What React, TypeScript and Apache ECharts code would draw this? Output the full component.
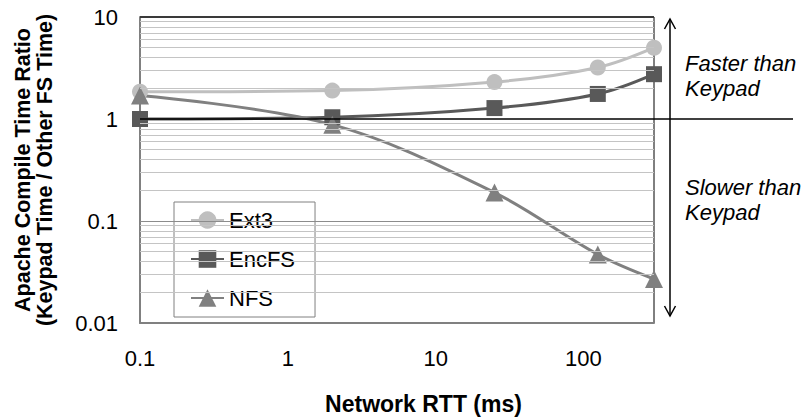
import { useEffect, useRef } from "react";
import * as echarts from "echarts";

const rtt = [0.1, 2, 25, 125, 300];
const ext3 = [1.85, 1.9, 2.3, 3.2, 5.0];
const encfs = [1.0, 1.04, 1.28, 1.76, 2.75];
const nfs = [1.7, 0.88, 0.19, 0.047, 0.027];
const xTicks = [0.1, 1, 10, 100];
const yTicks = [0.01, 0.1, 1, 10];
const minorY = [
  0.02, 0.03, 0.04, 0.05, 0.06, 0.07, 0.08, 0.09,
  0.2, 0.3, 0.4, 0.5, 0.6, 0.7, 0.8, 0.9,
  2, 3, 4, 5, 6, 7, 8, 9,
];
const seriesNames = ["Ext3", "EncFS", "NFS"];

const FONT = "'Liberation Sans', Arial, Helvetica, sans-serif";

function isTick(v: number, list: number[]) {
  return list.some((t) => Math.abs(Math.log10(v) - Math.log10(t)) < 1e-6);
}
function fmt(v: number) {
  return String(+v.toPrecision(3));
}

export default function App() {
  const ref = useRef<HTMLDivElement>(null);
  useEffect(() => {
    if (!ref.current) return;
    const chart = echarts.init(ref.current, null, { renderer: "svg" });
    const pairs = (ys: number[]) => rtt.map((x, i) => [x, ys[i]]);
    const mkSeries = (name: string, ys: number[], color: string, symbol: string, size: number) => ({
      name,
      type: "line",
      data: pairs(ys),
      smooth: 0.35,
      symbol,
      symbolSize: size,
      z: 3,
      lineStyle: { color, width: 3 },
      itemStyle: { color, borderWidth: 0 },
      emphasis: { disabled: true },
    });
    chart.setOption({
      animation: false,
      textStyle: { fontFamily: FONT },
      grid: {
        left: 140,
        top: 17,
        right: 148,
        bottom: 97,
        show: true,
        borderColor: "#000",
        borderWidth: 1,
        backgroundColor: "transparent",
      },
      legend: {
        data: seriesNames,
        orient: "vertical",
        left: 174,
        top: 202,
        padding: [7, 20, 8, 16],
        itemGap: 17,
        itemWidth: 33,
        itemHeight: 22,
        backgroundColor: "#fff",
        borderColor: "#808080",
        borderWidth: 1,
        textStyle: { fontSize: 22, lineHeight: 22, color: "#000", fontFamily: FONT, padding: [0, 0, 0, 0] },
        selectedMode: false,
      },
      xAxis: {
        type: "log",
        logBase: 10,
        min: 0.1,
        max: 300,
        name: "Network RTT (ms)",
        nameLocation: "middle",
        nameGap: 69,
        nameTextStyle: {
          fontSize: 23,
          fontWeight: "bold",
          color: "#000",
          fontFamily: FONT,
          padding: [0, 0, 0, 53],
        },
        axisLine: { show: true, lineStyle: { color: "#808080", width: 2 } },
        axisTick: { show: false },
        splitLine: { show: false },
        axisLabel: {
          margin: 24,
          fontSize: 22,
          color: "#000",
          fontFamily: FONT,
          formatter: (v: number) => (isTick(v, xTicks) ? fmt(v) : ""),
        },
      },
      yAxis: {
        type: "log",
        logBase: 10,
        min: 0.01,
        max: 10,
        name: "Apache Compile Time Ratio\n(Keypad Time / Other FS Time)",
        nameLocation: "middle",
        nameGap: 84,
        nameTextStyle: {
          fontSize: 21.5,
          lineHeight: 22,
          fontWeight: "bold",
          color: "#000",
          fontFamily: FONT,
        },
        axisLine: { show: true, lineStyle: { color: "#808080", width: 2 } },
        axisTick: { show: false },
        splitLine: { show: false },
        axisLabel: {
          margin: 22,
          fontSize: 22,
          color: "#000",
          fontFamily: FONT,
          formatter: (v: number) => (isTick(v, yTicks) ? fmt(v) : ""),
        },
      },
      series: [
        {
          name: "grid",
          type: "line",
          data: [],
          z: 1,
          silent: true,
          markLine: {
            silent: true,
            symbol: ["none", "none"],
            label: { show: false },
            animation: false,
            data: [
              ...minorY.map((v) => ({ yAxis: v, lineStyle: { color: "#c4c4c4", width: 1, type: "solid" } })),
              { yAxis: 0.1, lineStyle: { color: "#8c8c8c", width: 1, type: "solid" } },
              { yAxis: 10, lineStyle: { color: "#3a3a3a", width: 2, type: "solid" } },
            ],
          },
        },
        mkSeries("Ext3", ext3, "#bfbfbf", "circle", 16),
        mkSeries("EncFS", encfs, "#595959", "rect", 16),
        mkSeries("NFS", nfs, "#808080", "triangle", 18),
      ],
    });

    const p0 = chart.convertToPixel({ xAxisIndex: 0, yAxisIndex: 0 }, [0.1, 1]) as number[];
    const y1 = p0[1];
    const ax = 670;
    const topY = 19;
    const botY = 316;
    chart.setOption({
      graphic: [
        {
          type: "line",
          z: 100,
          shape: { x1: p0[0], y1: y1, x2: 793, y2: y1 },
          style: { stroke: "#000", lineWidth: 1.3 },
          silent: true,
        },
        {
          type: "line",
          z: 100,
          shape: { x1: ax, y1: topY, x2: ax, y2: botY },
          style: { stroke: "#000", lineWidth: 1.5 },
          silent: true,
        },
        {
          type: "polyline",
          z: 100,
          shape: { points: [[ax - 5.5, topY + 10], [ax, topY], [ax + 5.5, topY + 10]] },
          style: { stroke: "#000", lineWidth: 1.5, fill: "none" },
          silent: true,
        },
        {
          type: "polyline",
          z: 100,
          shape: { points: [[ax - 5.5, botY - 10], [ax, botY], [ax + 5.5, botY - 10]] },
          style: { stroke: "#000", lineWidth: 1.5, fill: "none" },
          silent: true,
        },
        {
          type: "text",
          z: 100,
          x: 685,
          y: 75.5,
          style: {
            text: "Faster than\nKeypad",
            font: `italic 22px ${FONT}`,
            lineHeight: 25,
            fill: "#000",
            verticalAlign: "middle",
            align: "left",
          },
          silent: true,
        },
        {
          type: "text",
          z: 100,
          x: 685,
          y: 200,
          style: {
            text: "Slower than\nKeypad",
            font: `italic 22px ${FONT}`,
            lineHeight: 25,
            fill: "#000",
            verticalAlign: "middle",
            align: "left",
          },
          silent: true,
        },
      ],
    });
    return () => chart.dispose();
  }, []);
  return (
    <div
      ref={ref}
      style={{ position: "absolute", left: 0, top: 0, width: 802, height: 420, background: "#fff" }}
    />
  );
}
